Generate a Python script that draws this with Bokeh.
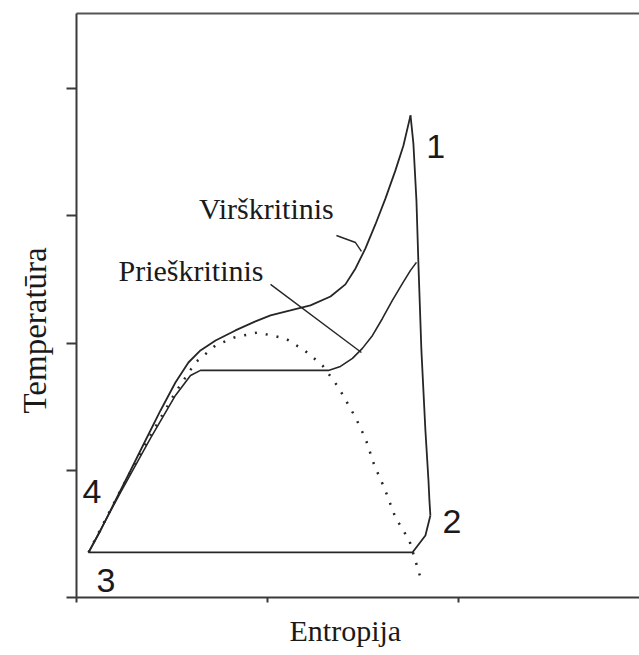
from bokeh.plotting import figure
from bokeh.models import Range1d, FixedTicker, LinearAxis, Label, Title
from bokeh.embed import file_html
from bokeh.resources import INLINE

# ---- data (entropy s, temperature T in arbitrary axis units) ----
x_ticks = [0, 1, 2]
y_ticks = [0, 1, 2, 3, 4]

# Supercritical cycle ("Virškritinis"): heating 4 -> 1
super_heat_s = [0.063, 0.126, 0.204, 0.283, 0.361, 0.440, 0.518, 0.586, 0.649, 0.728,
                0.832, 0.937, 1.016, 1.120, 1.225, 1.330, 1.408, 1.461, 1.513, 1.565,
                1.618, 1.670, 1.712, 1.749]
super_heat_t = [0.354, 0.527, 0.763, 0.998, 1.234, 1.470, 1.690, 1.847, 1.942, 2.020,
                2.099, 2.170, 2.217, 2.256, 2.296, 2.366, 2.461, 2.586, 2.744, 2.932,
                3.137, 3.357, 3.553, 3.789]

# Expansion 1 -> 2
exp_s = [1.749, 1.764, 1.780, 1.791, 1.806, 1.827, 1.843, 1.848, 1.853]
exp_t = [3.789, 3.569, 3.121, 2.594, 1.942, 1.313, 0.920, 0.763, 0.645]

# Condensation 2 -> 3
cond_s = [1.853, 1.827, 1.759, 0.063]
cond_t = [0.645, 0.487, 0.354, 0.354]

# Subcritical cycle ("Prieškritinis"): heating, evaporation, superheating
sub_s = [0.063, 0.230, 0.387, 0.518, 0.597, 0.649, 1.319, 1.382, 1.445, 1.497,
         1.550, 1.602, 1.654, 1.707, 1.749, 1.780]
sub_t = [0.354, 0.825, 1.250, 1.588, 1.745, 1.785, 1.785, 1.816, 1.879, 1.958,
         2.060, 2.193, 2.335, 2.469, 2.571, 2.634]

# Saturation dome (dotted)
dome_s = [0.063, 0.230, 0.387, 0.518, 0.623, 0.728, 0.827, 0.948, 1.094, 1.194,
          1.288, 1.372, 1.461, 1.513, 1.560, 1.613, 1.670, 1.743, 1.801]
dome_t = [0.354, 0.841, 1.274, 1.612, 1.847, 1.981, 2.044, 2.083, 2.036, 1.942,
          1.824, 1.651, 1.415, 1.250, 1.038, 0.857, 0.629, 0.448, 0.157]

# Leader lines from labels to curves
lead_super_s = [1.361, 1.461, 1.492]
lead_super_t = [2.845, 2.790, 2.720]
lead_sub_s = [1.016, 1.492]
lead_sub_t = [2.461, 1.926]

labels_text = ["Virškritinis", "Prieškritinis"]
labels_s = [0.641, 0.220]
labels_t = [3.058, 2.570]

points_text = ["1", "2", "3", "4"]
points_s = [1.832, 1.916, 0.105, 0.031]
points_t = [3.545, 0.597, 0.133, 0.833]

x_label = "Entropija"
y_label = "Temperatūra"

AX = "#3a3a3a"
LINE = "#262626"

p = figure(width=639, height=655, output_backend="svg", toolbar_location=None,
           x_range=Range1d(0, 2.948), y_range=Range1d(0, 4.59),
           min_border_left=76, min_border_right=0, min_border_top=13,
           min_border_bottom=58, background_fill_color="white",
           border_fill_color="white", outline_line_color=None)
p.grid.visible = False

for ax in (p.xaxis[0], p.yaxis[0]):
    ax.axis_line_color = AX
    ax.axis_line_width = 2
    ax.major_tick_line_color = AX
    ax.major_tick_line_width = 2
    ax.major_tick_in = 0
    ax.minor_tick_line_color = None
    ax.major_label_text_font_size = "0px"
    ax.major_label_text_color = None
    ax.major_label_standoff = 0
p.xaxis[0].ticker = FixedTicker(ticks=x_ticks)
p.yaxis[0].ticker = FixedTicker(ticks=y_ticks)
p.xaxis[0].major_tick_out = 5
p.yaxis[0].major_tick_out = 10

top = LinearAxis(axis_line_color="#555555", axis_line_width=2,
                 major_tick_line_color=None, minor_tick_line_color=None,
                 major_label_text_font_size="0px", major_label_text_color=None,
                 major_label_standoff=0, major_tick_out=0, major_tick_in=0)
p.add_layout(top, "above")

p.add_layout(Title(text=x_label, align="left", offset=213, standoff=18,
                   text_font="Liberation Serif", text_font_size="30px",
                   text_font_style="normal", text_color="#1a1a1a"), "below")
p.add_layout(Title(text=y_label, align="left", offset=184, standoff=27,
                   text_font="Liberation Serif", text_font_size="33px",
                   text_font_style="normal", text_color="#1a1a1a"), "left")

p.line(super_heat_s, super_heat_t, line_color=LINE, line_width=1.8)
p.line(exp_s, exp_t, line_color=LINE, line_width=1.8)
p.line(cond_s, cond_t, line_color=LINE, line_width=1.8)
p.line(sub_s, sub_t, line_color=LINE, line_width=1.6)
p.line(dome_s, dome_t, line_color=LINE, line_width=2.5, line_dash="2 9")
p.line(lead_super_s, lead_super_t, line_color=LINE, line_width=1.4)
p.line(lead_sub_s, lead_sub_t, line_color=LINE, line_width=1.4)

for t, s, y in zip(labels_text, labels_s, labels_t):
    p.add_layout(Label(x=s, y=y, text=t, text_font="Liberation Serif",
                       text_font_size="30px", text_color="#1a1a1a",
                       text_baseline="alphabetic", text_align="left"))

for t, s, y in zip(points_text, points_s, points_t):
    p.add_layout(Label(x=s, y=y, text=t, text_font="Liberation Sans",
                       text_font_size="34px", text_color="#1a1a1a",
                       text_baseline="alphabetic", text_align="left"))

open("out.html", "w").write(file_html(p, INLINE))
